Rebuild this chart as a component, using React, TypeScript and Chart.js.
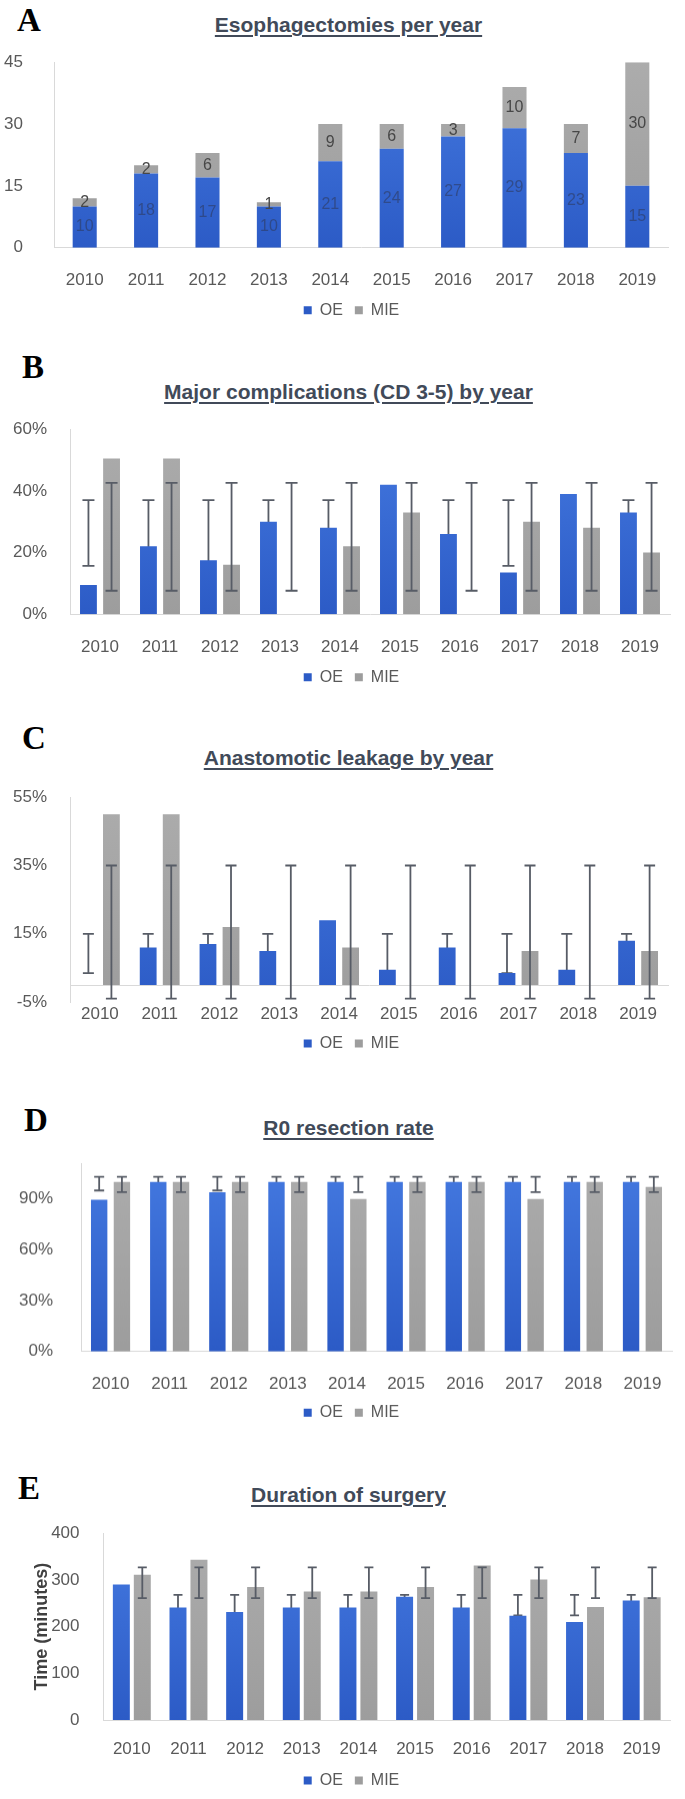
import React, { useEffect, useRef } from 'react';
import { Chart, registerables } from 'chart.js';

Chart.register(...registerables);
Chart.defaults.font.family = '"Liberation Sans", Arial, sans-serif';

const years = ['2010', '2011', '2012', '2013', '2014', '2015', '2016', '2017', '2018', '2019'];

// A - esophagectomies per year (counts)
const casesOE = [10, 18, 17, 10, 21, 24, 27, 29, 23, 15];
const casesMIE = [2, 2, 6, 1, 9, 6, 3, 10, 7, 30];
const casesTicks = [0, 15, 30, 45];

// B - major complications (%)
const majorOE = [9.5, 22, 17.5, 30, 28, 42, 26, 13.5, 39, 33];
const majorMIE = [50.5, 50.5, 16, 0, 22, 33, 0, 30, 28, 20];
const majorOERange = [15.7, 37];
const majorMIERange = [7.6, 42.6];
const majorTicks = [0, 20, 40, 60];

// C - anastomotic leakage (%)
const leakOE = [0, 11, 12, 10, 19, 4.5, 11, 3.5, 4.5, 13];
const leakMIE = [50, 50, 17, 0, 11, 0, 0, 10, 0, 10];
const leakOERange = [3.5, 15];
const leakMIERange = [-4, 35];
const leakTicks = [-5, 15, 35, 55];

// D - R0 resection rate (%)
const r0OE = [89.5, 100, 94, 100, 100, 100, 100, 100, 100, 100];
const r0MIE = [100, 100, 100, 100, 90, 100, 100, 90, 100, 97];
const r0OERange = [95, 103];
const r0MIERange = [94, 103];
const r0Ticks = [0, 30, 60, 90];

// E - duration of surgery (minutes)
const timeOE = [290, 241, 231, 241, 241, 264, 241, 223, 210, 256];
const timeMIE = [311, 343, 285, 275, 275, 285, 331, 301, 242, 263];
const timeOERange = [224, 268];
const timeMIERange = [261, 327];
const timeTicks = [0, 100, 200, 300, 400];

const axisColor = '#d9d9d9';
const tickColor = '#595959';
const errColor = '#575c66';
const PAD_LEFT = 4;

interface PanelSpec {
  letter: string;
  letterLeft: number;
  letterTop: number;
  title: string;
  titleTop: number;
  plotLeft: number;
  plotRight: number;
  plotTop: number;
  plotBottom: number;
  labelY: number;
  legendY: number;
  tickGap: number;
  min: number;
  max: number;
  ticks: number[];
  suffix: string;
  oe: number[];
  mie: number[];
  stacked?: boolean;
  oeRange?: number[];
  mieRange?: number[];
  cap?: number;
  catPct: number;
  barPct: number;
  zeroAxis?: boolean;
  yTitle?: string;
}

const panels: PanelSpec[] = [
  {
    letter: 'A', letterLeft: 17, letterTop: 4.2, title: 'Esophagectomies per year', titleTop: 14.3,
    plotLeft: 54, plotRight: 668, plotTop: 62, plotBottom: 247.5, labelY: 272, legendY: 310, tickGap: 23,
    min: 0, max: 45, ticks: casesTicks, suffix: '', oe: casesOE, mie: casesMIE, stacked: true,
    catPct: 0.8, barPct: 0.49,
  },
  {
    letter: 'B', letterLeft: 22, letterTop: 351.2, title: 'Major complications (CD 3-5) by year', titleTop: 380.6,
    plotLeft: 70, plotRight: 670, plotTop: 429, plotBottom: 614, labelY: 639, legendY: 677, tickGap: 15,
    min: 0, max: 60, ticks: majorTicks, suffix: '%', oe: majorOE, mie: majorMIE,
    oeRange: majorOERange, mieRange: majorMIERange, cap: 12, catPct: 0.77, barPct: 0.73,
  },
  {
    letter: 'C', letterLeft: 22, letterTop: 722.2, title: 'Anastomotic leakage by year', titleTop: 747.3,
    plotLeft: 70, plotRight: 668, plotTop: 796.7, plotBottom: 1001.6, labelY: 1006, legendY: 1043, tickGap: 15,
    min: -5, max: 55, ticks: leakTicks, suffix: '%', oe: leakOE, mie: leakMIE,
    oeRange: leakOERange, mieRange: leakMIERange, cap: 11, catPct: 0.77, barPct: 0.73, zeroAxis: true,
  },
  {
    letter: 'D', letterLeft: 24, letterTop: 1104.2, title: 'R0 resection rate', titleTop: 1117.3,
    plotLeft: 81, plotRight: 672, plotTop: 1163.4, plotBottom: 1351, labelY: 1376, legendY: 1412, tickGap: 20,
    min: 0, max: 111, ticks: r0Ticks, suffix: '%', oe: r0OE, mie: r0MIE,
    oeRange: r0OERange, mieRange: r0MIERange, cap: 10, catPct: 0.77, barPct: 0.72,
  },
  {
    letter: 'E', letterLeft: 18, letterTop: 1472.2, title: 'Duration of surgery', titleTop: 1484,
    plotLeft: 103.5, plotRight: 670, plotTop: 1532.7, plotBottom: 1719.5, labelY: 1741, legendY: 1780, tickGap: 16,
    min: 0, max: 400, ticks: timeTicks, suffix: '', oe: timeOE, mie: timeMIE,
    oeRange: timeOERange, mieRange: timeMIERange, cap: 9, catPct: 0.74, barPct: 0.81, yTitle: 'Time (minutes)',
  },
];

const gradientFill = (top: string, bottom: string) => (c: any) => {
  const area = c.chart.chartArea;
  if (!area) return bottom;
  const g = c.chart.ctx.createLinearGradient(0, area.top, 0, area.bottom);
  g.addColorStop(0, top);
  g.addColorStop(1, bottom);
  return g;
};

const drawRange = (chart: any, index: number, range: number[] | undefined, cap: number) => {
  if (!range) return;
  const ctx = chart.ctx;
  const y = chart.scales.y;
  const hi = y.getPixelForValue(range[1]);
  const lo = y.getPixelForValue(range[0]);
  ctx.save();
  ctx.strokeStyle = errColor;
  ctx.lineWidth = 1.8;
  chart.getDatasetMeta(index).data.forEach((bar: any) => {
    ctx.beginPath();
    ctx.moveTo(bar.x, hi);
    ctx.lineTo(bar.x, lo);
    ctx.moveTo(bar.x - cap / 2, hi);
    ctx.lineTo(bar.x + cap / 2, hi);
    ctx.moveTo(bar.x - cap / 2, lo);
    ctx.lineTo(bar.x + cap / 2, lo);
    ctx.stroke();
  });
  ctx.restore();
};

function ChartPanel({ spec }: { spec: PanelSpec }) {
  const canvasRef = useRef<HTMLCanvasElement>(null);
  // chart.js reserves tick padding + half a label line above the y axis anyway
  const padTop = spec.tickGap + 10.2;
  const canvasTop = spec.plotTop - padTop;
  const canvasHeight = spec.legendY + 18 - canvasTop;

  useEffect(() => {
    if (!canvasRef.current) return;
    const legendTop = spec.legendY - 20;
    const cap = spec.cap || 10;

    const extras = {
      id: 'extras',
      // the legend is centred on the whole figure, not on the plot
      afterLayout(chart: any) {
        if (chart.legend) {
          chart.legend.left = 0;
          chart.legend.right = 703;
        }
      },
      // OE error bars sit behind the blue bars, MIE ones over the grey bars
      beforeDatasetsDraw(chart: any) {
        drawRange(chart, 0, spec.oeRange, cap);
      },
      afterDatasetsDraw(chart: any) {
        drawRange(chart, 1, spec.mieRange, cap);
        if (!spec.stacked) return;
        const ctx = chart.ctx;
        ctx.save();
        ctx.font = '16px "Liberation Sans", Arial, sans-serif';
        ctx.textAlign = 'center';
        ctx.textBaseline = 'middle';
        chart.data.datasets.forEach((ds: any, i: number) => {
          ctx.fillStyle = i === 0 ? 'rgba(45,55,85,0.55)' : '#474747';
          chart.getDatasetMeta(i).data.forEach((bar: any, j: number) => {
            ctx.fillText(String(ds.data[j]), bar.x, (bar.y + bar.base) / 2);
          });
        });
        ctx.restore();
      },
    };

    const scales: any = {
      x: {
        stacked: !!spec.stacked,
        position: spec.zeroAxis ? { y: 0 } : 'bottom',
        grid: { display: false },
        border: { display: true, color: axisColor },
        ticks: {
          color: tickColor,
          font: { size: 17 },
          padding: spec.labelY - (spec.zeroAxis ? spec.plotBottom - 17.1 : spec.plotBottom) - 10.2,
          maxRotation: 0,
          autoSkip: false,
        },
        afterFit: (s: any) => {
          s.height = legendTop - spec.plotBottom;
        },
      },
      y: {
        stacked: !!spec.stacked,
        min: spec.min,
        max: spec.max,
        afterBuildTicks: (s: any) => {
          s.ticks = spec.ticks.map((value) => ({ value }));
        },
        grid: { display: false },
        border: { display: true, color: axisColor },
        ticks: {
          color: tickColor,
          font: { size: 17 },
          padding: spec.tickGap,
          callback: (v: any) => v + spec.suffix,
        },
        title: {
          display: !!spec.yTitle,
          text: spec.yTitle || '',
          color: '#404040',
          font: { size: 18, weight: 'bold' },
          padding: { top: 27.2, bottom: 0 },
        },
        afterFit: (s: any) => {
          s.width = spec.plotLeft - PAD_LEFT;
        },
      },
    };

    // with the category axis on the zero line, keep room for the legend gap below the plot
    if (spec.zeroAxis) {
      scales.spacer = {
        type: 'category',
        position: 'bottom',
        grid: { display: false },
        border: { display: false },
        ticks: { display: false },
        afterFit: (s: any) => {
          s.height = legendTop - spec.plotBottom;
        },
      };
    }

    const chart = new Chart(canvasRef.current, {
      type: 'bar',
      data: {
        labels: years,
        datasets: [
          {
            label: 'OE',
            data: spec.oe,
            backgroundColor: gradientFill('#4479e0', '#2c5bc6'),
            categoryPercentage: spec.catPct,
            barPercentage: spec.barPct,
            xAxisID: 'x',
          },
          {
            label: 'MIE',
            data: spec.mie,
            backgroundColor: gradientFill('#acacac', '#9d9d9d'),
            categoryPercentage: spec.catPct,
            barPercentage: spec.barPct,
            xAxisID: 'x',
          },
        ],
      },
      options: {
        responsive: true,
        maintainAspectRatio: false,
        animation: false,
        events: [],
        layout: { padding: { top: padTop, left: PAD_LEFT, right: 685 - spec.plotRight, bottom: 0 } },
        plugins: {
          legend: {
            position: 'bottom',
            labels: {
              boxWidth: 8,
              boxHeight: 8,
              padding: 12,
              color: '#595959',
              font: { size: 16 },
            },
          },
          tooltip: { enabled: false },
        },
        scales,
      },
      plugins: [extras],
    } as any);

    return () => chart.destroy();
  }, [spec]);

  return (
    <div style={{ position: 'absolute', left: 0, top: canvasTop, width: 685, height: canvasHeight }}>
      <canvas ref={canvasRef} />
    </div>
  );
}

export default function App() {
  return (
    <div style={{ position: 'absolute', left: 0, top: 0, width: 685, height: 1799, background: '#fff', overflow: 'hidden' }}>
      {panels.map((p) => (
        <React.Fragment key={p.letter}>
          <div
            style={{
              position: 'absolute',
              left: p.letterLeft,
              top: p.letterTop,
              fontFamily: '"Liberation Serif", "Times New Roman", serif',
              fontWeight: 'bold',
              fontSize: 33,
              lineHeight: '33px',
              color: '#000',
            }}
          >
            {p.letter}
          </div>
          <div
            style={{
              position: 'absolute',
              left: 0,
              width: 697,
              top: p.titleTop,
              textAlign: 'center',
              whiteSpace: 'nowrap',
              fontFamily: '"Liberation Sans", Arial, sans-serif',
              fontWeight: 'bold',
              fontSize: 21,
              lineHeight: '21px',
              color: '#414a59',
              textDecoration: 'underline',
              textDecorationThickness: '2px',
              textUnderlineOffset: '3px',
            }}
          >
            {p.title}
          </div>
          <ChartPanel spec={p} />
        </React.Fragment>
      ))}
    </div>
  );
}
